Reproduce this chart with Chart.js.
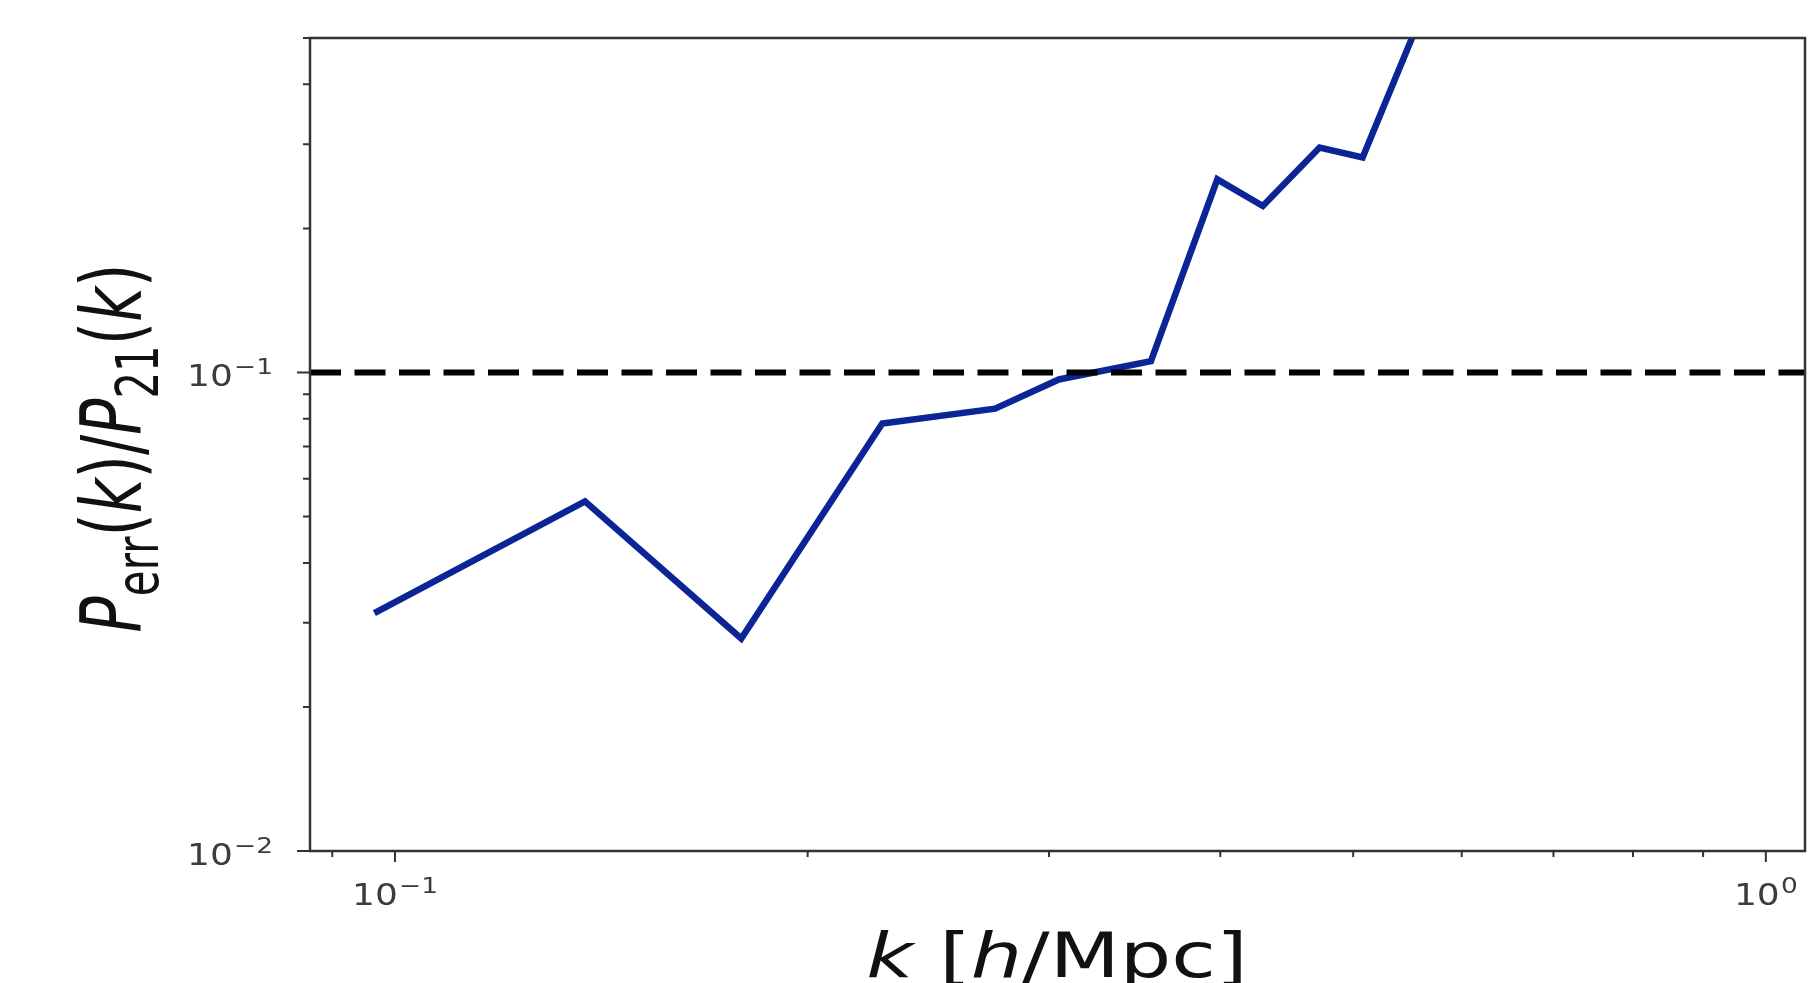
<!DOCTYPE html>
<html>
<head>
<meta charset="utf-8">
<script src="https://cdn.jsdelivr.net/npm/chart.js@4.4.1/dist/chart.umd.min.js"></script>
<style>
  html, body { margin: 0; padding: 0; background: #fff; }
  #wrap { width: 1812px; height: 983px; }
</style>
</head>
<body>
<div id="wrap"><canvas id="errChart"></canvas></div>
<script>
// k [h/Mpc] and P_err/P_21
const kValues = [0.0966, 0.1376, 0.1789, 0.2267, 0.274, 0.305, 0.356, 0.398, 0.4296, 0.4726, 0.508, 0.56];
const ratioValues = [0.0314, 0.0538, 0.0278, 0.0782, 0.084, 0.0967, 0.1056, 0.2533, 0.2228, 0.2951, 0.2813, 0.553];
const thresholdValue = 0.1;

const xRange = [0.0867, 1.068];
const yRange = [0.01, 0.5];

// tick labels are "base^exponent"
const xMajorTicks = [0.1, 1];
const xTickLabels = ['10^−1', '10^0'];
const xMinorTicks = [0.09, 0.2, 0.3, 0.4, 0.5, 0.6, 0.7, 0.8, 0.9];
const yMajorTicks = [0.01, 0.1];
const yTickLabels = ['10^−2', '10^−1'];
const yMinorTicks = [0.02, 0.03, 0.04, 0.05, 0.06, 0.07, 0.08, 0.09, 0.2, 0.3, 0.4, 0.5];

const FONT = '"DejaVu Sans", sans-serif';
const LABEL_STRETCH = 1.2; // the source picture is a bit wide

// box round the plot, outward tick marks and power-of-ten labels (matplotlib style)
function drawPower(ctx, label, x, y, align) {
  const [base, exp] = label.split('^');
  ctx.font = '30px ' + FONT;
  const wb = ctx.measureText(base).width;
  ctx.font = '22px ' + FONT;
  const we = ctx.measureText(exp).width;
  const w = (wb + we + 1) * LABEL_STRETCH;
  const left = align === 'right' ? x - w : x - w / 2;
  ctx.save();
  ctx.translate(left, y);
  ctx.scale(LABEL_STRETCH, 1);
  ctx.font = '30px ' + FONT;
  ctx.fillText(base, 0, 0);
  ctx.font = '22px ' + FONT;
  ctx.fillText(exp, wb + 1, -12);
  ctx.restore();
}

const frameAndTicks = {
  id: 'frameAndTicks',
  afterDraw(chart) {
    const { ctx, chartArea: a, scales: { x, y } } = chart;
    ctx.save();
    ctx.strokeStyle = '#333';
    ctx.lineWidth = 2.5;
    ctx.strokeRect(a.left, a.top, a.right - a.left, a.bottom - a.top);

    ctx.lineWidth = 2;
    ctx.beginPath();
    const xTick = (v, len) => {
      const px = x.getPixelForValue(v);
      ctx.moveTo(px, a.bottom);
      ctx.lineTo(px, a.bottom + len);
    };
    const yTick = (v, len) => {
      const py = y.getPixelForValue(v);
      ctx.moveTo(a.left, py);
      ctx.lineTo(a.left - len, py);
    };
    xMajorTicks.forEach(v => xTick(v, 11));
    xMinorTicks.forEach(v => xTick(v, 6));
    yMajorTicks.forEach(v => yTick(v, 13));
    yMinorTicks.forEach(v => yTick(v, 7));
    ctx.stroke();

    ctx.fillStyle = '#3c3c3c';
    ctx.textBaseline = 'alphabetic';
    ctx.textAlign = 'left';
    xMajorTicks.forEach((v, i) => drawPower(ctx, xTickLabels[i], x.getPixelForValue(v), a.bottom + 54, 'center'));
    yMajorTicks.forEach((v, i) => drawPower(ctx, yTickLabels[i], a.left - 37, y.getPixelForValue(v) + 14, 'right'));
    ctx.restore();
  }
};

// axis titles with italic letters and subscripts
function pieceFont(p, size) {
  return (p.it ? 'italic ' : '') + (p.sub ? size * 0.7 : size) + 'px ' + FONT;
}

function drawPieces(ctx, pieces, size) {
  let total = 0;
  pieces.forEach(p => {
    ctx.font = pieceFont(p, size);
    p.w = ctx.measureText(p.t).width;
    total += p.w;
  });
  let cx = -total / 2;
  pieces.forEach(p => {
    ctx.font = pieceFont(p, size);
    ctx.fillText(p.t, cx, p.sub ? size * 0.2 : 0);
    cx += p.w;
  });
}

const axisTitles = {
  id: 'axisTitles',
  afterDraw(chart) {
    const ctx = chart.ctx;
    ctx.save();
    ctx.fillStyle = '#111';
    ctx.textBaseline = 'alphabetic';
    ctx.textAlign = 'left';

    ctx.save();
    ctx.translate(141, 448);
    ctx.rotate(-Math.PI / 2);
    ctx.scale(1, 1.4);
    drawPieces(ctx, [
      { t: 'P', it: true }, { t: 'err', sub: true }, { t: '(' }, { t: 'k', it: true }, { t: ')/' },
      { t: 'P', it: true }, { t: '21', sub: true }, { t: '(' }, { t: 'k', it: true }, { t: ')' }
    ], 60);
    ctx.restore();

    ctx.save();
    ctx.translate(1057, 977);
    ctx.scale(1.31, 1);
    drawPieces(ctx, [
      { t: 'k', it: true }, { t: ' [' }, { t: 'h', it: true }, { t: '/Mpc]' }
    ], 62);
    ctx.restore();

    ctx.restore();
  }
};

new Chart(document.getElementById('errChart'), {
  type: 'line',
  data: {
    datasets: [
      {
        // threshold line, drawn on top of the curve
        data: [{ x: xRange[0], y: thresholdValue }, { x: xRange[1], y: thresholdValue }],
        borderColor: '#000',
        borderWidth: 6,
        borderDash: [31, 13.5],
        pointRadius: 0
      },
      {
        data: kValues.map((k, i) => ({ x: k, y: ratioValues[i] })),
        borderColor: '#0b2496',
        borderWidth: 6.5,
        pointRadius: 0,
        tension: 0,
        clip: 0
      }
    ]
  },
  options: {
    responsive: true,
    maintainAspectRatio: false,
    animation: false,
    layout: { padding: { top: 38, right: 7, left: 0, bottom: 0 } },
    plugins: {
      legend: { display: false },
      tooltip: { enabled: false }
    },
    scales: {
      x: {
        type: 'logarithmic',
        min: xRange[0],
        max: xRange[1],
        grid: { display: false, drawTicks: false },
        border: { display: false },
        ticks: { display: false },
        afterBuildTicks: s => { s.ticks = xMajorTicks.map(v => ({ value: v })); },
        afterFit: s => { s.height = 132; s.paddingLeft = 0; s.paddingRight = 0; }
      },
      y: {
        type: 'logarithmic',
        min: yRange[0],
        max: yRange[1],
        grid: { display: false, drawTicks: false },
        border: { display: false },
        ticks: { display: false },
        afterBuildTicks: s => { s.ticks = yMajorTicks.map(v => ({ value: v })); },
        afterFit: s => { s.width = 310; s.paddingTop = 0; s.paddingBottom = 0; }
      }
    }
  },
  plugins: [frameAndTicks, axisTitles]
});
</script>
</body>
</html>
